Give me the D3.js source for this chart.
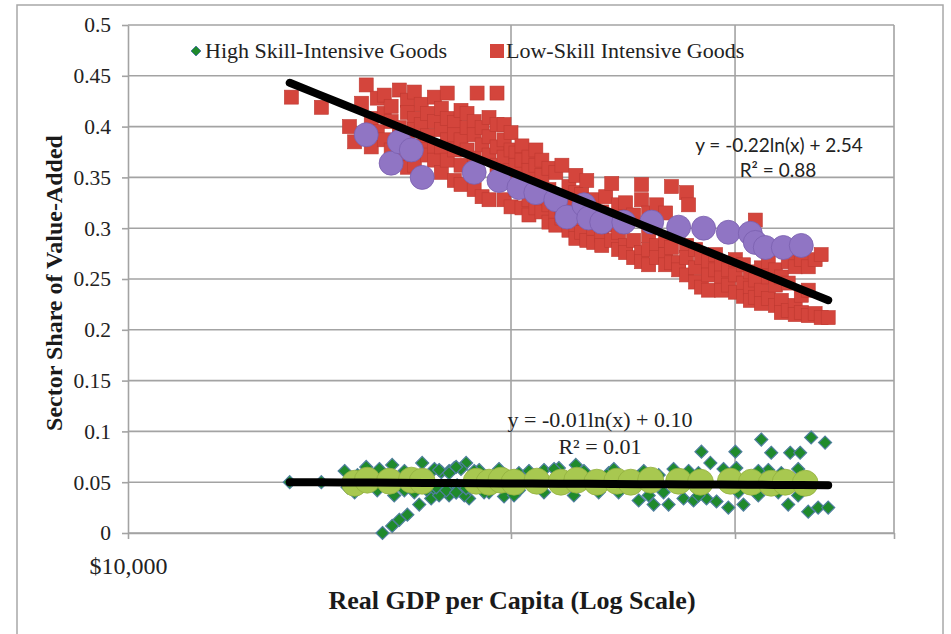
<!DOCTYPE html>
<html>
<head>
<meta charset="utf-8">
<script src="https://cdn.jsdelivr.net/npm/d3@7"></script>
<style>
    body { margin: 0; background: #fff; }
    svg { display: block; font-family: "Liberation Serif", "Times New Roman", serif; }
</style>
</head>
<body>
<div id="chart"></div>
<script>
// [real GDP per capita, sector share]
const lowSkill = [
    [13440,.429],[14190,.419],[14930,.400],[15070,.385],[15260,.423],[15390,.441],
    [15530,.408],[15530,.380],[15700,.428],[15700,.395],
    [15900,.431],[15900,.413],[15900,.387],[16100,.420],[16100,.405],[16100,.377],
    [16340,.436],[16340,.399],[16340,.369],
    [16580,.426],[16580,.414],[16580,.389],[16580,.360],
    [16790,.434],[16790,.408],[16790,.397],[16790,.362],
    [17000,.422],[17000,.402],[17000,.381],[17190,.413],[17190,.391],[17190,.372],
    [17410,.429],[17410,.405],[17410,.380],[17410,.367],
    [17630,.418],[17630,.397],[17630,.380],[17630,.355],
    [17820,.433],[17820,.408],[17820,.387],[17820,.367],
    [18050,.404],[18050,.392],[18050,.377],[18050,.347],
    [18270,.416],[18270,.387],[18270,.362],[18270,.343],
    [18470,.413],[18470,.399],[18470,.377],
    [18710,.405],[18710,.392],[18710,.369],[18710,.338],[18810,.433],
    [18980,.399],[18980,.382],[18980,.331],
    [19220,.409],[19220,.390],[19220,.372],[19220,.328],
    [19500,.433],[19500,.402],[19500,.380],[19500,.362],
    [19750,.402],[19750,.387],[19750,.370],[19750,.328],
    [20000,.394],[20000,.377],[20000,.357],[20000,.321],
    [20180,.374],[20180,.362],[20180,.338],[20400,.381],[20400,.367],[20400,.320],
    [20660,.370],[20660,.357],[20660,.328],[20660,.313],
    [20920,.377],[20920,.362],[20920,.343],[20920,.320],
    [21150,.367],[21150,.352],[21150,.316],
    [21420,.359],[21420,.338],[21420,.323],[21420,.306],
    [21690,.355],[21690,.316],[21690,.303],[21930,.362],[21930,.328],[21930,.310],
    [22210,.341],[22210,.323],[22210,.298],
    [22490,.352],[22490,.335],[22490,.303],[22490,.290],
    [22730,.333],[22730,.313],[22730,.296],[22940,.347],[22940,.288],
    [23230,.328],[23230,.300],[23230,.286],[23570,.316],[23570,.293],[23570,.283],
    [23740,.331],[24000,.344],[24000,.303],[24000,.288],
    [24300,.323],[24300,.296],[24300,.279],[24610,.325],[24610,.283],[24610,.276],
    [24970,.313],[24970,.288],[24970,.271],
    [25330,.343],[25330,.328],[25330,.276],[25330,.267],
    [25660,.315],[25660,.293],[25660,.279],[25660,.264],
    [26030,.323],[26030,.283],[26030,.271],
    [26460,.315],[26460,.288],[26460,.274],[26460,.264],
    [26740,.341],[26740,.281],[26740,.266],[27090,.298],[27090,.266],[27090,.259],
    [27480,.335],[27480,.283],[27480,.271],[27480,.254],[27580,.323],
    [27930,.279],[27930,.261],[27930,.247],[28230,.271],[28230,.242],
    [28590,.267],[28590,.254],[28590,.239],[28960,.274],[28960,.259],
    [29270,.264],[29270,.251],[29270,.239],[29640,.259],[29640,.244],
    [30020,.269],[30020,.254],[30020,.237],[30460,.264],[30460,.246],[30460,.233],
    [30840,.257],[30840,.241],[30840,.229],[31120,.308],[31120,.249],[31120,.232],
    [31460,.261],[31460,.239],[31460,.226],[31860,.267],[31860,.252],[31860,.231],
    [32270,.259],[32270,.244],[32270,.224],[32620,.252],[32620,.229],[32620,.217],
    [33030,.267],[33030,.246],[33030,.219],[33450,.262],[33450,.224],[33450,.215],
    [33820,.269],[33820,.234],[33820,.217],[34250,.262],[34250,.239],[34250,.214],
    [34680,.269],[34680,.216],[35060,.274],[35060,.212],[35510,.212]
];

const lowSkillBig = [
    [15390,.392],[16100,.364],[16340,.385],[16700,.377],[17030,.350],[18710,.355],
    [19570,.347],[20290,.340],[20920,.335],[21690,.328],[22130,.311],[22820,.323],
    [23020,.310],[23570,.306],[24530,.306],[25800,.306],[27090,.301],[28340,.300],
    [29640,.296],[30840,.295],[31120,.286],[31690,.281],[32740,.281],[33820,.283]
];

const highSkill = [
    [13400,.050],[14190,.050],[14880,.045],[15150,.057],[15390,.065],[15700,.042],
    [16130,.067],[16490,.042],[17030,.069],[17250,.040],[17630,.060],[17880,.037],
    [18050,.064],[18440,.069],[18540,.034],[18880,.062],[19220,.040],[19570,.057],
    [19750,.036],[20290,.059],[20290,.042],[21230,.062],[21810,.064],[22490,.067],
    [22610,.054],[23440,.040],[23870,.059],[25200,.056],[25200,.032],[25890,.028],
    [26130,.057],[26600,.028],[27330,.034],[27830,.032],[28080,.059],[28230,.080],
    [28490,.034],[28690,.069],[29010,.031],[29640,.025],[30020,.080],[30070,.064],
    [30460,.028],[31460,.092],[31860,.062],[32030,.079],[32620,.059],[33030,.028],
    [33150,.079],[33750,.079],[34250,.021],[34430,.094],[34870,.025],[35310,.089],
    [35510,.025],
    [15850,.000],[16130,.007],[16340,.013],[16580,.018],[16940,.028],[17310,.034],
    [17820,.044],[18140,.047],
    [14800,.061],[15760,.063],[16490,.061],[17410,.063],[17880,.061],[18270,.063],
    [18710,.061],[19570,.063],[20660,.061],[21620,.063],[22820,.061],[24090,.063],
    [25430,.061],[26840,.063],[27580,.061],[29380,.063],[31290,.061],[33630,.063],
    [15070,.040],[16190,.037],[16790,.040],[17560,.037],[18110,.040],[18380,.037],
    [19050,.040],[20110,.037],[21230,.040],[22410,.037],[24300,.040],[25660,.037],
    [26360,.040],[28080,.037],[30180,.040],[31290,.037],[32440,.040],[33630,.037],
    [17560,.062],[17880,.059],[18110,.065],[17470,.045],[17790,.042],[18110,.040],
    [18440,.044]
];

const highSkillBig = [
    [15070,.049],[15420,.052],[16050,.051],[16700,.052],[17030,.051],[18780,.051],
    [19220,.050],[19640,.052],[20110,.050],[20960,.051],[21890,.050],[22530,.052],
    [23360,.050],[24220,.051],[24840,.050],[25750,.052],[27090,.051],[28180,.050],
    [29750,.051],[30900,.050],[32030,.049],[32850,.050],[34060,.049]
];

const xTicks = [10000, 20000, 30000, 40000];
const yTicks = [0, 0.05, 0.1, 0.15, 0.2, 0.25, 0.3, 0.35, 0.4, 0.45, 0.5];

// logarithmic trendlines y = a ln(x) + b
const lowTrend = [-0.2196, 2.530];
const highTrend = [-0.0031, 0.0795];
const lowTrendText = ["y = -0.22ln(x) + 2.54", "R\u00b2 = 0.88"];
const highTrendText = ["y = -0.01ln(x) + 0.10", "R\u00b2 = 0.01"];

const seriesNames = ["High Skill-Intensive Goods", "Low-Skill Intensive Goods"];

const W = 951, H = 634;
const margin = { top: 25, right: 57, bottom: 101, left: 128 };
const width = W - margin.left - margin.right;
const height = H - margin.top - margin.bottom;

const svg = d3.select("#chart").append("svg")
    .attr("width", W)
    .attr("height", H);

//outer chart frame
svg.append("rect")
    .attr("x", 17).attr("y", 5)
    .attr("width", 926).attr("height", 650)
    .attr("fill", "none")
    .attr("stroke", "#a8a8a8")
    .attr("stroke-width", 1.5);

const g = svg.append("g").attr("transform", `translate(${margin.left},${margin.top})`);

const x = d3.scaleLog().domain([10000, 40000]).range([0, width]);
const y = d3.scaleLinear().domain([0, 0.5]).range([height, 0]);

const gridColor = "#a3a3a3";

//gridlines
g.append("g").selectAll("line")
    .data(yTicks)
    .join("line")
    .attr("x1", 0).attr("x2", width)
    .attr("y1", d => y(d)).attr("y2", d => y(d))
    .attr("stroke", gridColor).attr("stroke-width", 1.6);

g.append("g").selectAll("line")
    .data(xTicks.slice(1))
    .join("line")
    .attr("x1", d => x(d)).attr("x2", d => x(d))
    .attr("y1", 0).attr("y2", height)
    .attr("stroke", gridColor).attr("stroke-width", 1.6);

//axes
const yAxis = g.append("g")
    .call(d3.axisLeft(y).tickValues(yTicks).tickSize(6).tickPadding(11).tickSizeOuter(0)
        .tickFormat(d => String(+d.toFixed(2))));

const xAxis = g.append("g")
    .attr("transform", `translate(0,${height})`)
    .call(d3.axisBottom(x).tickValues(xTicks).tickSize(6).tickPadding(18).tickSizeOuter(0)
        .tickFormat(d => (d === 10000 ? d3.format("$,")(d) : "")));

[yAxis, xAxis].forEach(ax => {
    ax.attr("font-family", null).attr("font-size", null);
    ax.select(".domain").attr("stroke", gridColor).attr("stroke-width", 1.6);
    ax.selectAll(".tick line").attr("stroke", gridColor).attr("stroke-width", 1.6);
    ax.selectAll(".tick text").attr("fill", "#222");
});
yAxis.selectAll(".tick text").style("font-size", "21.5px");
xAxis.selectAll(".tick text").style("font-size", "24px");

//markers
const diamond = "M0,-6.5L6.5,0L0,6.5L-6.5,0Z";

g.append("g").selectAll("path")
    .data(highSkill)
    .join("path")
    .attr("d", diamond)
    .attr("transform", d => `translate(${x(d[0])},${y(d[1])})`)
    .attr("fill", "#1f8a2c")
    .attr("stroke", "#4f7f9e")
    .attr("stroke-width", 1.2);

g.append("g").selectAll("rect")
    .data(lowSkill)
    .join("rect")
    .attr("x", d => x(d[0]) - 7)
    .attr("y", d => y(d[1]) - 7)
    .attr("width", 14).attr("height", 14)
    .attr("fill", "#d4453c")
    .attr("stroke", "#bf3931")
    .attr("stroke-width", 0.6);

g.append("g").selectAll("circle")
    .data(lowSkillBig)
    .join("circle")
    .attr("cx", d => x(d[0]))
    .attr("cy", d => y(d[1]))
    .attr("r", 12)
    .attr("fill", "#9075c4")
    .attr("stroke", "#7a5fae")
    .attr("stroke-width", 0.8);

g.append("g").selectAll("circle")
    .data(highSkillBig)
    .join("circle")
    .attr("cx", d => x(d[0]))
    .attr("cy", d => y(d[1]))
    .attr("r", 13)
    .attr("fill", "#a8c850")
    .attr("stroke", "#93b040")
    .attr("stroke-width", 0.8);

//trendlines
const xExtent = d3.extent(lowSkill.concat(highSkill), d => d[0]);
const line = d3.line().x(d => x(d[0])).y(d => y(d[1]));
[lowTrend, highTrend].forEach(([a, b]) => {
    const pts = d3.range(0, 21).map(i => {
        const xv = xExtent[0] * Math.pow(xExtent[1] / xExtent[0], i / 20);
        return [xv, a * Math.log(xv) + b];
    });
    g.append("path")
        .attr("d", line(pts))
        .attr("fill", "none")
        .attr("stroke", "#000")
        .attr("stroke-width", 8)
        .attr("stroke-linecap", "round");
});

//trendline labels
svg.append("g")
    .attr("font-family", "Lato, 'Liberation Sans', sans-serif")
    .attr("font-size", 19)
    .attr("fill", "#222")
    .attr("text-anchor", "middle")
    .selectAll("text")
    .data(lowTrendText)
    .join("text")
    .attr("x", (d, i) => (i === 0 ? 779 : 778))
    .attr("y", (d, i) => 152 + i * 25)
    .text(d => d);

svg.append("g")
    .attr("font-family", "'Liberation Serif', serif")
    .attr("font-size", 22)
    .attr("fill", "#222")
    .attr("text-anchor", "middle")
    .selectAll("text")
    .data(highTrendText)
    .join("text")
    .attr("x", 600)
    .attr("y", (d, i) => 427 + i * 27)
    .text(d => d);

//legend
const legend = svg.append("g").attr("font-size", 22).attr("fill", "#222");
legend.append("path")
    .attr("d", "M0,-5L5,0L0,5L-5,0Z")
    .attr("transform", "translate(196,51)")
    .attr("fill", "#1f8a2c")
    .attr("stroke", "#4f7f9e")
    .attr("stroke-width", 1);
legend.append("text").attr("x", 205).attr("y", 58).text(seriesNames[0]);
legend.append("rect")
    .attr("x", 490).attr("y", 44).attr("width", 14).attr("height", 14)
    .attr("fill", "#d4453c");
legend.append("text").attr("x", 506).attr("y", 58).text(seriesNames[1]);

//axis titles
svg.append("text")
    .attr("x", 512).attr("y", 609)
    .attr("text-anchor", "middle")
    .attr("font-weight", "bold")
    .attr("font-size", 26)
    .attr("fill", "#1a1a1a")
    .text("Real GDP per Capita (Log Scale)");

svg.append("text")
    .attr("transform", "translate(62,283) rotate(-90)")
    .attr("text-anchor", "middle")
    .attr("font-weight", "bold")
    .attr("font-size", 24)
    .attr("fill", "#1a1a1a")
    .text("Sector Share of Value-Added");
</script>
</body>
</html>
